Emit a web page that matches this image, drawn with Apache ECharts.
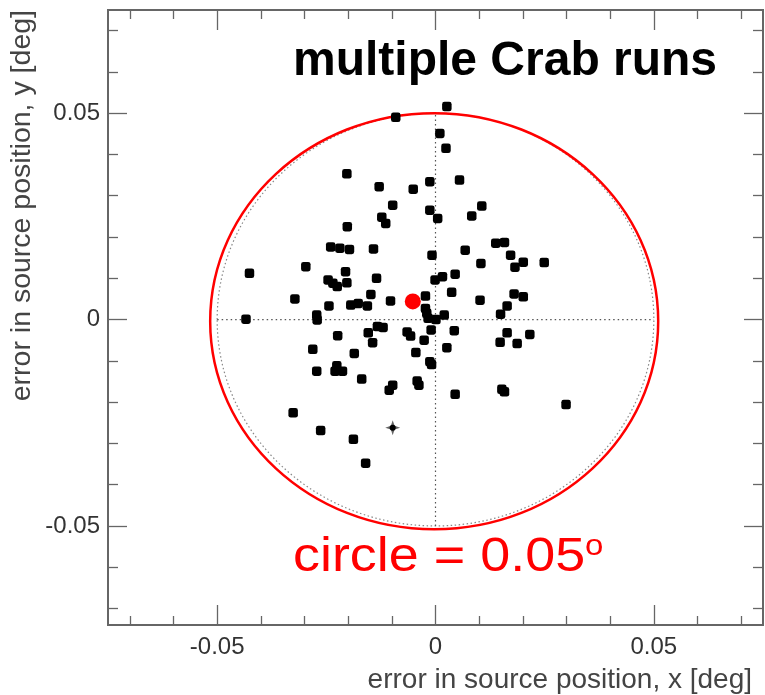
<!DOCTYPE html>
<html><head><meta charset="utf-8">
<script src="https://cdn.jsdelivr.net/npm/echarts@6/dist/echarts.min.js"></script>
<style>html,body{margin:0;padding:0;background:#fff}#c{width:765px;height:695px}</style>
</head><body><div id="c"></div>
<script>
// ---- data ----
const xRange = [-0.075, 0.075];
const yRange = [-0.074, 0.075];
const majorTicks = [-0.05, 0, 0.05];
const minorTicks = [-0.07, -0.06, -0.04, -0.03, -0.02, -0.01, 0.01, 0.02, 0.03, 0.04, 0.06, 0.07];
const tickLabels = ['-0.05', '0', '0.05'];
const titleText = 'multiple Crab runs';
const circleText = 'circle = 0.05';
const xTitle = 'error in source position, x [deg]';
const yTitle = 'error in source position, y [deg]';
const circleRadius = 0.05;
const runs = [
  [0.0026, 0.0516], [-0.0091, 0.0490], [0.0010, 0.0451], [0.0024, 0.0415],
  [-0.0203, 0.0353], [-0.0013, 0.0334], [0.0055, 0.0338], [-0.0129, 0.0322],
  [-0.0051, 0.0316], [-0.0098, 0.0277], [-0.0013, 0.0265], [0.0005, 0.0245],
  [-0.0123, 0.0248], [-0.0114, 0.0233], [0.0083, 0.0251], [0.0106, 0.0275],
  [-0.0202, 0.0225], [-0.0240, 0.0176], [-0.0219, 0.0173], [-0.0197, 0.0170],
  [-0.0142, 0.0171], [-0.0008, 0.0156], [0.0068, 0.0168], [0.0138, 0.0185],
  [0.0158, 0.0187], [0.0172, 0.0156], [0.0104, 0.0136], [0.0201, 0.0139],
  [0.0182, 0.0127], [0.0249, 0.0138], [-0.0426, 0.0112], [-0.0297, 0.0128],
  [-0.0206, 0.0116], [-0.0246, 0.0096], [-0.0235, 0.0088], [-0.0225, 0.0080],
  [-0.0203, 0.0089], [-0.0135, 0.0100], [-0.0001, 0.0096], [0.0016, 0.0104],
  [0.0045, 0.0110], [0.0037, 0.0066], [-0.0148, 0.0061], [-0.0322, 0.0050],
  [-0.0244, 0.0033], [-0.0194, 0.0035], [-0.0177, 0.0039], [-0.0156, 0.0033],
  [-0.0103, 0.0045], [-0.0023, 0.0057], [-0.0023, 0.0027], [-0.0020, 0.0015],
  [-0.0017, 0.0003], [0.0001, 0.0000], [0.0020, 0.0011], [-0.0434, 0.0001],
  [-0.0272, 0.0011], [-0.0271, -0.0001], [0.0102, 0.0047], [0.0180, 0.0062],
  [0.0201, 0.0055], [0.0164, 0.0033], [0.0149, 0.0013], [-0.0133, -0.0017],
  [-0.0120, -0.0019], [-0.0154, -0.0032], [-0.0224, -0.0039], [-0.0144, -0.0056],
  [-0.0065, -0.0030], [-0.0057, -0.0040], [-0.0010, -0.0025], [0.0043, -0.0027],
  [-0.0026, -0.0050], [-0.0281, -0.0072], [-0.0186, -0.0082], [-0.0045, -0.0080],
  [0.0026, -0.0068], [-0.0013, -0.0102], [-0.0009, -0.0109], [-0.0272, -0.0125],
  [-0.0226, -0.0112], [-0.0230, -0.0125], [-0.0213, -0.0125], [-0.0169, -0.0144],
  [-0.0098, -0.0159], [-0.0106, -0.0171], [-0.0042, -0.0149], [-0.0038, -0.0159],
  [0.0045, -0.0181], [0.0164, -0.0032], [0.0216, -0.0036], [0.0148, -0.0055],
  [0.0187, -0.0058], [0.0152, -0.0169], [0.0158, -0.0175], [0.0299, -0.0206],
  [-0.0326, -0.0226], [-0.0263, -0.0269], [-0.0188, -0.0290], [-0.0160, -0.0348]
];
const flagged = [[-0.0098, -0.0262]];
const meanPos = [[-0.0052, 0.0044]];
const crossH = [[-0.05, 0], [0.05, 0]];
const crossV = [[0, -0.05], [0, 0.05]];

// ---- chart ----
const FONT = 'Liberation Sans';
const AX = '#666';
function lbl(ticks, margin) {
  return {
    show: true, customValues: ticks, margin: margin, color: '#333', fontSize: 24, fontFamily: FONT,
    formatter: v => tickLabels[majorTicks.indexOf(+(+v).toFixed(3))] ?? String(v)
  };
}
function xAx(pos, ticks, len, labels) {
  return {
    type: 'value', position: pos, min: xRange[0], max: xRange[1],
    axisLine: { show: false, onZero: false }, splitLine: { show: false },
    axisTick: { show: true, inside: true, length: len, customValues: ticks, lineStyle: { color: AX, width: 1.3 } },
    axisLabel: labels ? lbl(ticks, 10) : { show: false }
  };
}
function yAx(pos, ticks, len, labels) {
  return {
    type: 'value', position: pos, min: yRange[0], max: yRange[1],
    axisLine: { show: false, onZero: false }, splitLine: { show: false },
    axisTick: { show: true, inside: true, length: len, customValues: ticks, lineStyle: { color: AX, width: 1.3 } },
    axisLabel: labels ? lbl(ticks, 8) : { show: false }
  };
}
const chart = echarts.init(document.getElementById('c'), null, { renderer: 'canvas' });
chart.setOption({
  backgroundColor: '#fff',
  animation: false,
  grid: { left: 108, right: 2, top: 10, bottom: 70, show: true, borderColor: '#666', borderWidth: 2, backgroundColor: 'transparent' },
  xAxis: [xAx('bottom', majorTicks, 20, true), xAx('bottom', minorTicks, 9, false),
          xAx('top', majorTicks, 20, false), xAx('top', minorTicks, 9, false)],
  yAxis: [yAx('left', majorTicks, 19, true), yAx('left', minorTicks, 10, false),
          yAx('right', majorTicks, 19, false), yAx('right', minorTicks, 10, false)],
  series: [
    { type: 'line', data: crossH, symbol: 'none', lineStyle: { color: '#555', width: 1.2, type: [1.5, 3] }, z: 1, silent: true },
    { type: 'line', data: crossV, symbol: 'none', lineStyle: { color: '#555', width: 1.2, type: [1.5, 3] }, z: 1, silent: true },
    { type: 'scatter', data: runs, symbol: 'roundRect', symbolSize: 9.5, itemStyle: { color: '#000', opacity: 1 }, z: 3 },
    { type: 'scatter', data: flagged, symbol: 'path://M0,-10 L2.5,-2.5 L10,0 L2.5,2.5 L0,10 L-2.5,2.5 L-10,0 L-2.5,-2.5 Z', symbolSize: 15, itemStyle: { color: '#666', opacity: 1 }, z: 3 },
    { type: 'scatter', data: flagged, symbol: 'circle', symbolSize: 6, itemStyle: { color: '#000', opacity: 1 }, z: 4 },
    { type: 'scatter', data: meanPos, symbol: 'circle', symbolSize: 16, itemStyle: { color: '#f00', opacity: 1 }, z: 5 }
  ]
});
const o = chart.convertToPixel({ gridIndex: 0 }, [0, 0]);
const px = chart.convertToPixel({ gridIndex: 0 }, [circleRadius, circleRadius]);
const rx = px[0] - o[0], ry = o[1] - px[1];
const rc = chart.convertToPixel({ gridIndex: 0 }, [-0.0003, -0.0004]);
chart.setOption({
  graphic: [
    { type: 'ellipse', z: 0, silent: true, shape: { cx: o[0], cy: o[1], rx: rx, ry: ry },
      style: { fill: 'none', stroke: '#888', lineWidth: 1.2, lineDash: [1.5, 2.5] } },
    { type: 'ellipse', z: 0, silent: true, shape: { cx: rc[0], cy: rc[1], rx: rx * 0.0513 / circleRadius, ry: ry * 0.0504 / circleRadius },
      style: { fill: 'none', stroke: '#f00', lineWidth: 2.5 } },
    { type: 'text', x: 293, y: 62, z: 10, style: { text: titleText, font: 'bold 48px "' + FONT + '"', fill: '#000', align: 'left', verticalAlign: 'middle' } },
    { type: 'text', x: 293, y: 557, scaleX: 1.1, z: 10, style: {
        text: '{a|' + circleText + '}{s|o}', align: 'left', verticalAlign: 'middle',
        rich: { a: { fontSize: 49, fontFamily: FONT, fill: '#f00', lineHeight: 50 },
                s: { fontSize: 30, fontFamily: FONT, fill: '#f00', verticalAlign: 'top', lineHeight: 44 } } } },
    { type: 'text', x: 752, y: 680, z: 10, style: { text: xTitle, font: '28px "' + FONT + '"', fill: '#444', align: 'right', verticalAlign: 'middle' } },
    { type: 'text', x: 22, y: 10, rotation: Math.PI / 2, z: 10, style: { text: yTitle, font: '28.5px "' + FONT + '"', fill: '#444', align: 'right', verticalAlign: 'middle' } }
  ]
});
</script></body></html>
